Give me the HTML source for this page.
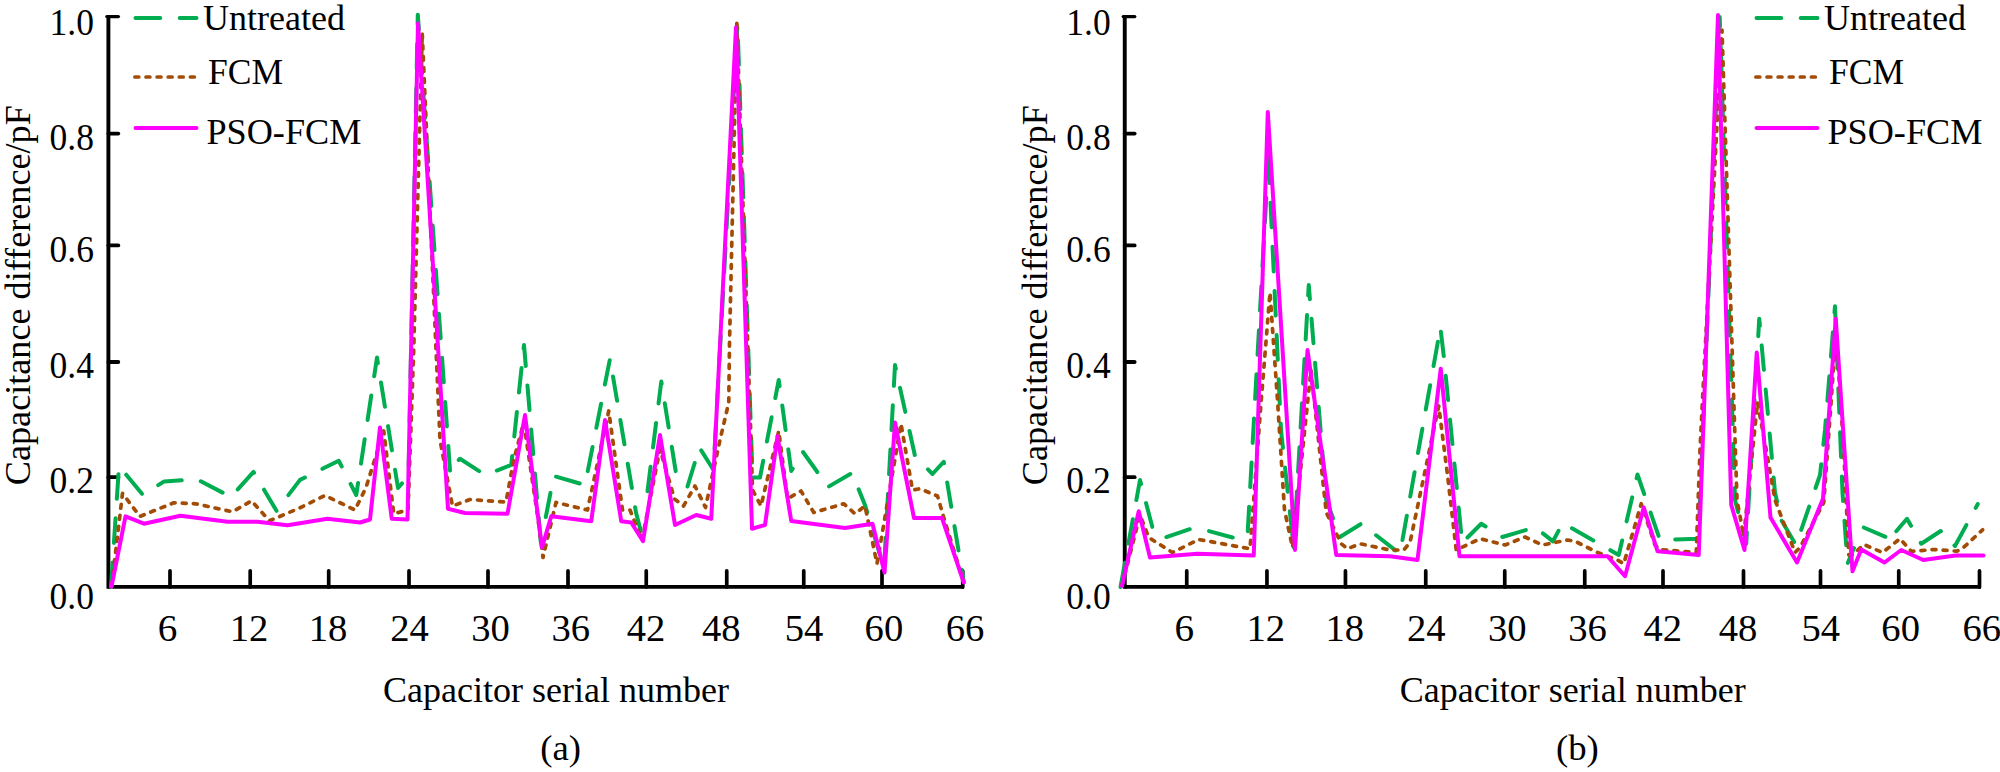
<!DOCTYPE html>
<html><head><meta charset="utf-8"><title>Capacitance difference</title>
<style>
html,body{margin:0;padding:0;background:#fff;}
svg{display:block}
text{font-family:"Liberation Serif","Times New Roman",serif;font-size:35.5px;fill:#000}
.t{font-size:37.3px}
.a{font-size:36.7px}
</style></head><body>
<svg width="2000" height="772" viewBox="0 0 2000 772">
<rect width="2000" height="772" fill="#fff"/>
<line x1="108.4" y1="15.2" x2="108.4" y2="588.75" stroke="#000" stroke-width="3.9"/>
<line x1="106.9" y1="16.6" x2="118.4" y2="16.6" stroke="#000" stroke-width="3.3" stroke-linecap="round"/>
<line x1="108.4" y1="586.9" x2="964" y2="586.9" stroke="#000" stroke-width="3.7"/>
<line x1="108.4" y1="133.6" x2="118.3" y2="133.6" stroke="#000" stroke-width="3.8" stroke-linecap="round"/>
<line x1="108.4" y1="245.4" x2="118.3" y2="245.4" stroke="#000" stroke-width="3.8" stroke-linecap="round"/>
<line x1="108.4" y1="362" x2="118.3" y2="362" stroke="#000" stroke-width="3.8" stroke-linecap="round"/>
<line x1="108.4" y1="477.2" x2="118.3" y2="477.2" stroke="#000" stroke-width="3.8" stroke-linecap="round"/>
<line x1="170" y1="570.9" x2="170" y2="586.9" stroke="#000" stroke-width="3.7" stroke-linecap="round"/>
<line x1="250.2" y1="570.9" x2="250.2" y2="586.9" stroke="#000" stroke-width="3.7" stroke-linecap="round"/>
<line x1="328.7" y1="570.9" x2="328.7" y2="586.9" stroke="#000" stroke-width="3.7" stroke-linecap="round"/>
<line x1="409" y1="570.9" x2="409" y2="586.9" stroke="#000" stroke-width="3.7" stroke-linecap="round"/>
<line x1="488" y1="570.9" x2="488" y2="586.9" stroke="#000" stroke-width="3.7" stroke-linecap="round"/>
<line x1="568" y1="570.9" x2="568" y2="586.9" stroke="#000" stroke-width="3.7" stroke-linecap="round"/>
<line x1="646.25" y1="570.9" x2="646.25" y2="586.9" stroke="#000" stroke-width="3.7" stroke-linecap="round"/>
<line x1="726.75" y1="570.9" x2="726.75" y2="586.9" stroke="#000" stroke-width="3.7" stroke-linecap="round"/>
<line x1="803.75" y1="570.9" x2="803.75" y2="586.9" stroke="#000" stroke-width="3.7" stroke-linecap="round"/>
<line x1="882" y1="570.9" x2="882" y2="586.9" stroke="#000" stroke-width="3.7" stroke-linecap="round"/>
<line x1="962.75" y1="570.9" x2="962.75" y2="586.9" stroke="#000" stroke-width="3.7" stroke-linecap="round"/>
<text class="t" x="94" y="34.5" text-anchor="end" textLength="44.4" lengthAdjust="spacingAndGlyphs">1.0</text>
<text class="t" x="94" y="149.5" text-anchor="end" textLength="44.4" lengthAdjust="spacingAndGlyphs">0.8</text>
<text class="t" x="94" y="261.5" text-anchor="end" textLength="44.4" lengthAdjust="spacingAndGlyphs">0.6</text>
<text class="t" x="94" y="377.75" text-anchor="end" textLength="44.4" lengthAdjust="spacingAndGlyphs">0.4</text>
<text class="t" x="94" y="492.9" text-anchor="end" textLength="44.4" lengthAdjust="spacingAndGlyphs">0.2</text>
<text class="t" x="94" y="608.5" text-anchor="end" textLength="44.4" lengthAdjust="spacingAndGlyphs">0.0</text>
<text class="t" x="167.5" y="640.7" text-anchor="middle" textLength="19.6" lengthAdjust="spacingAndGlyphs">6</text>
<text class="t" x="249.1" y="640.7" text-anchor="middle" textLength="38.6" lengthAdjust="spacingAndGlyphs">12</text>
<text class="t" x="328" y="640.7" text-anchor="middle" textLength="38.6" lengthAdjust="spacingAndGlyphs">18</text>
<text class="t" x="409.6" y="640.7" text-anchor="middle" textLength="38.6" lengthAdjust="spacingAndGlyphs">24</text>
<text class="t" x="490.5" y="640.7" text-anchor="middle" textLength="38.6" lengthAdjust="spacingAndGlyphs">30</text>
<text class="t" x="570.8" y="640.7" text-anchor="middle" textLength="38.6" lengthAdjust="spacingAndGlyphs">36</text>
<text class="t" x="646.1" y="640.7" text-anchor="middle" textLength="38.6" lengthAdjust="spacingAndGlyphs">42</text>
<text class="t" x="721.3" y="640.7" text-anchor="middle" textLength="38.6" lengthAdjust="spacingAndGlyphs">48</text>
<text class="t" x="804" y="640.7" text-anchor="middle" textLength="38.6" lengthAdjust="spacingAndGlyphs">54</text>
<text class="t" x="883.9" y="640.7" text-anchor="middle" textLength="38.6" lengthAdjust="spacingAndGlyphs">60</text>
<text class="t" x="965" y="640.7" text-anchor="middle" textLength="38.6" lengthAdjust="spacingAndGlyphs">66</text>
<text class="a" transform="translate(30,295.2) rotate(-90)" text-anchor="middle" textLength="380" lengthAdjust="spacingAndGlyphs">Capacitance difference/pF</text>
<text class="a" x="556" y="701.6" text-anchor="middle" textLength="346" lengthAdjust="spacingAndGlyphs">Capacitor serial number</text>
<text class="a" x="560.7" y="759.6" text-anchor="middle">(a)</text>
<polyline points="111,587 119,466 142.9,494.8 164.2,481.4 197,479.3 231,497 253.5,471.9 276.5,510.8 300,479.9 338.75,460.75 356.25,495 377,357.5 398,488 408.5,476 417.8,14.7 450.4,476" fill="none" stroke="#00ad50" stroke-width="4" stroke-linejoin="round" stroke-dasharray="24.6 19.6" stroke-linecap="round"/>
<polyline points="458.75,460 460,458.75 485,475 511.25,465 524,345 541,545" fill="none" stroke="#00ad50" stroke-width="4" stroke-linejoin="round" stroke-dasharray="24.6 19.6" stroke-linecap="round"/>
<polyline points="545.8,517 553.75,476 585,485 610,358.75 636,512.5 642.5,537.5" fill="none" stroke="#00ad50" stroke-width="4" stroke-linejoin="round" stroke-dasharray="24.6 19.6" stroke-linecap="round"/>
<polyline points="647.5,491.25 661.3,381.5 676.4,475.5" fill="none" stroke="#00ad50" stroke-width="4" stroke-linejoin="round" stroke-dasharray="24.6 19.6" stroke-linecap="round"/>
<polyline points="687.5,486.5 699.4,447.5 713.5,470 737.5,24 752.3,472" fill="none" stroke="#00ad50" stroke-width="4" stroke-linejoin="round" stroke-dasharray="24.6 19.6" stroke-linecap="round"/>
<polyline points="752.5,477.5 760,477.5 778.75,380 791.25,471 803,452 828,487 852,473 865,505 884,568 895,365 915,456 932.5,474 943.75,461.75 963.75,582" fill="none" stroke="#00ad50" stroke-width="4" stroke-linejoin="round" stroke-dasharray="24.6 19.6" stroke-linecap="round"/>
<polyline points="111.5,587 122.5,493.4 139.9,516.4 173.8,502.8 195.7,503.8 232.6,511.8 251.5,500.8 269.5,520.8 300,507.8 325,495.5 355,510 366,487.5 383.75,431 393.75,513.75 408,510 413.7,350 422.2,33.2 440,440 452.5,506 470,499.5 506,502 513.75,460 523.75,422.5 537.5,515 543,557.5 556,502.5 587.5,510 608.75,411 622.5,510 630,510 642,540 660,449 674.5,499 683.5,506 695,486 705.5,507.5 720,440 728.75,402.5 729.5,343.75 736.8,23.3" fill="none" stroke="#a34c05" stroke-width="3.7" stroke-linejoin="round" stroke-dasharray="3.9 7.2" stroke-dashoffset="-1.6" stroke-linecap="round"/>
<polyline points="736.8,23.3 751,440 752.5,490 761,506 778.75,431 787.5,498.75 801,491 813.75,512.5 843.75,503.75 855,513.75 865,506 877,563.75 901,423.75 912.5,490 920,488.75 937.5,496 943.75,517.5 963,580" fill="none" stroke="#a34c05" stroke-width="3.7" stroke-linejoin="round" stroke-dasharray="3.9 7.2" stroke-dashoffset="-1.6" stroke-linecap="round"/>
<polyline points="111.5,586.5 125.5,516.4 143.9,523.7 180.4,515.8 227.6,521.8 257.5,521.8 287.5,525.2 327.5,518.75 360,522.5 370,519.5 380,427.5 391.75,518.75 407.5,519.5 418,23.2 448,508.75 465,513 507.5,513.75 525,415 542,547.5 551.25,516.25 591.25,521.25 605,420 621.25,521.25 631.25,522.5 643,541.25 660,435 675,525 696.25,515 711.25,518.75 736,27.3 752,528.75 765,525 777.5,436.25 791.25,521 845,528 872.5,523.75 884.5,572.5 895,422.5 914,518 942,518 963.75,582.5" fill="none" stroke="#ff00ff" stroke-width="4" stroke-linejoin="round" stroke-linecap="round"/>
<line x1="135.5" y1="18" x2="196.5" y2="18" stroke="#00ad50" stroke-width="4" stroke-dasharray="24.75 19.5" stroke-linecap="round"/>
<line x1="133.3" y1="77" x2="195.9" y2="77" stroke="#a34c05" stroke-width="3.7" stroke-dasharray="3.9 7.2" stroke-dashoffset="-1.6" stroke-linecap="round"/>
<line x1="135.5" y1="128" x2="196.5" y2="128" stroke="#ff00ff" stroke-width="4" stroke-linecap="round"/>
<text x="203" y="29.5" textLength="142" lengthAdjust="spacingAndGlyphs">Untreated</text>
<text x="208.1" y="83.75">FCM</text>
<text x="206.5" y="143.75" textLength="154.8" lengthAdjust="spacingAndGlyphs">PSO-FCM</text>
<line x1="1124.75" y1="15.2" x2="1124.75" y2="588.75" stroke="#000" stroke-width="3.9"/>
<line x1="1123.25" y1="16.6" x2="1134.75" y2="16.6" stroke="#000" stroke-width="3.3" stroke-linecap="round"/>
<line x1="1124.75" y1="586.9" x2="1981" y2="586.9" stroke="#000" stroke-width="3.7"/>
<line x1="1124.75" y1="133.6" x2="1134.65" y2="133.6" stroke="#000" stroke-width="3.8" stroke-linecap="round"/>
<line x1="1124.75" y1="245.4" x2="1134.65" y2="245.4" stroke="#000" stroke-width="3.8" stroke-linecap="round"/>
<line x1="1124.75" y1="362" x2="1134.65" y2="362" stroke="#000" stroke-width="3.8" stroke-linecap="round"/>
<line x1="1124.75" y1="477.2" x2="1134.65" y2="477.2" stroke="#000" stroke-width="3.8" stroke-linecap="round"/>
<line x1="1186.75" y1="570.9" x2="1186.75" y2="586.9" stroke="#000" stroke-width="3.7" stroke-linecap="round"/>
<line x1="1266.95" y1="570.9" x2="1266.95" y2="586.9" stroke="#000" stroke-width="3.7" stroke-linecap="round"/>
<line x1="1345.45" y1="570.9" x2="1345.45" y2="586.9" stroke="#000" stroke-width="3.7" stroke-linecap="round"/>
<line x1="1425.75" y1="570.9" x2="1425.75" y2="586.9" stroke="#000" stroke-width="3.7" stroke-linecap="round"/>
<line x1="1504.75" y1="570.9" x2="1504.75" y2="586.9" stroke="#000" stroke-width="3.7" stroke-linecap="round"/>
<line x1="1584.75" y1="570.9" x2="1584.75" y2="586.9" stroke="#000" stroke-width="3.7" stroke-linecap="round"/>
<line x1="1663" y1="570.9" x2="1663" y2="586.9" stroke="#000" stroke-width="3.7" stroke-linecap="round"/>
<line x1="1743.5" y1="570.9" x2="1743.5" y2="586.9" stroke="#000" stroke-width="3.7" stroke-linecap="round"/>
<line x1="1820.5" y1="570.9" x2="1820.5" y2="586.9" stroke="#000" stroke-width="3.7" stroke-linecap="round"/>
<line x1="1898.75" y1="570.9" x2="1898.75" y2="586.9" stroke="#000" stroke-width="3.7" stroke-linecap="round"/>
<line x1="1979.5" y1="570.9" x2="1979.5" y2="586.9" stroke="#000" stroke-width="3.7" stroke-linecap="round"/>
<text class="t" x="1110.75" y="34.5" text-anchor="end" textLength="44.4" lengthAdjust="spacingAndGlyphs">1.0</text>
<text class="t" x="1110.75" y="149.5" text-anchor="end" textLength="44.4" lengthAdjust="spacingAndGlyphs">0.8</text>
<text class="t" x="1110.75" y="261.5" text-anchor="end" textLength="44.4" lengthAdjust="spacingAndGlyphs">0.6</text>
<text class="t" x="1110.75" y="377.75" text-anchor="end" textLength="44.4" lengthAdjust="spacingAndGlyphs">0.4</text>
<text class="t" x="1110.75" y="492.9" text-anchor="end" textLength="44.4" lengthAdjust="spacingAndGlyphs">0.2</text>
<text class="t" x="1110.75" y="608.5" text-anchor="end" textLength="44.4" lengthAdjust="spacingAndGlyphs">0.0</text>
<text class="t" x="1184.25" y="640.7" text-anchor="middle" textLength="19.6" lengthAdjust="spacingAndGlyphs">6</text>
<text class="t" x="1265.85" y="640.7" text-anchor="middle" textLength="38.6" lengthAdjust="spacingAndGlyphs">12</text>
<text class="t" x="1344.75" y="640.7" text-anchor="middle" textLength="38.6" lengthAdjust="spacingAndGlyphs">18</text>
<text class="t" x="1426.35" y="640.7" text-anchor="middle" textLength="38.6" lengthAdjust="spacingAndGlyphs">24</text>
<text class="t" x="1507.25" y="640.7" text-anchor="middle" textLength="38.6" lengthAdjust="spacingAndGlyphs">30</text>
<text class="t" x="1587.55" y="640.7" text-anchor="middle" textLength="38.6" lengthAdjust="spacingAndGlyphs">36</text>
<text class="t" x="1662.85" y="640.7" text-anchor="middle" textLength="38.6" lengthAdjust="spacingAndGlyphs">42</text>
<text class="t" x="1738.05" y="640.7" text-anchor="middle" textLength="38.6" lengthAdjust="spacingAndGlyphs">48</text>
<text class="t" x="1820.75" y="640.7" text-anchor="middle" textLength="38.6" lengthAdjust="spacingAndGlyphs">54</text>
<text class="t" x="1900.65" y="640.7" text-anchor="middle" textLength="38.6" lengthAdjust="spacingAndGlyphs">60</text>
<text class="t" x="1981.75" y="640.7" text-anchor="middle" textLength="38.6" lengthAdjust="spacingAndGlyphs">66</text>
<text class="a" transform="translate(1046.75,295.2) rotate(-90)" text-anchor="middle" textLength="380" lengthAdjust="spacingAndGlyphs">Capacitance difference/pF</text>
<text class="a" x="1572.75" y="701.6" text-anchor="middle" textLength="346" lengthAdjust="spacingAndGlyphs">Capacitor serial number</text>
<text class="a" x="1577.45" y="759.6" text-anchor="middle">(b)</text>
<polyline points="1120.5,587 1140,480 1153.75,532.5 1165,537.5 1191,528.75 1205,530 1232.5,537.5 1247.5,536 1268.5,157.7" fill="none" stroke="#00ad50" stroke-width="4" stroke-linejoin="round" stroke-dasharray="24.6 19.6" stroke-linecap="round"/>
<polyline points="1268.5,158.5 1281,430 1293.75,547.5" fill="none" stroke="#00ad50" stroke-width="4" stroke-linejoin="round" stroke-dasharray="24.6 19.6" stroke-linecap="round"/>
<polyline points="1293.75,547.5 1308.75,285 1326.25,500 1340,537 1361.25,523.75 1400,553.75 1438.2,340" fill="none" stroke="#00ad50" stroke-width="4" stroke-linejoin="round" stroke-dasharray="24.6 19.6" stroke-linecap="round" stroke-dashoffset="12.67"/>
<polyline points="1440.9,331.7 1444,358.2 1461.25,533.75" fill="none" stroke="#00ad50" stroke-width="4" stroke-linejoin="round" stroke-dasharray="24.6 19.6" stroke-linecap="round"/>
<polyline points="1467.5,537.5 1481.25,523.75 1502.5,537 1535,527.3 1553,541.3 1562.7,523 1618.75,555 1637.5,474.5 1660,540 1698.5,538.75 1719.7,17 1735,500 1746.25,543.75 1759.25,318.75 1775,492.5 1781.25,520 1796,545 1820,475 1825,430 1835,306.25 1842.5,492.5 1847.5,563.75 1854,548" fill="none" stroke="#00ad50" stroke-width="4" stroke-linejoin="round" stroke-dasharray="24.6 19.6" stroke-linecap="round"/>
<polyline points="1863.75,527.5 1885.5,536.8" fill="none" stroke="#00ad50" stroke-width="4" stroke-linejoin="round" stroke-dasharray="24.6 19.6" stroke-linecap="round"/>
<polyline points="1896.25,531.25 1907,518.75 1921.25,543.75 1940.7,531 1955,546 1977.8,504" fill="none" stroke="#00ad50" stroke-width="4" stroke-linejoin="round" stroke-dasharray="24.6 19.6" stroke-linecap="round"/>
<polyline points="1121.5,587 1140,515 1148.75,537.5 1172.5,552.5 1198.75,539.5 1250,548.75 1261.25,400 1270,292.5 1277.5,400 1284.5,510 1292.5,547.5 1306.25,415 1311,370 1326.25,512.5 1341.25,543.75 1347.5,548.75 1360,543.75 1390,550 1403.75,550 1410,542.5 1438.75,406 1447.5,475 1456.25,550 1480,538.75 1505,545 1525,537 1542.5,545 1567.5,540 1575,541.25 1597.5,552.5 1617.5,560 1623.75,563.75 1641.25,503.75 1655,545 1660,549.5 1696.25,552.5 1700,450 1702.5,400 1722,30 1733.75,400 1737,500 1743.75,536.25 1757.5,402.5 1766.25,450 1775,500 1795,552.5 1800,547.5 1823.75,502.5 1831.25,400 1836,330 1843.75,450 1848.75,555 1852.5,555 1863.75,544.5 1882.5,552.5 1900,538.75 1911.25,551.25 1935,549.5 1957,551.2 1964,547 1982.6,529.8" fill="none" stroke="#a34c05" stroke-width="3.7" stroke-linejoin="round" stroke-dasharray="3.9 7.2" stroke-dashoffset="-1.6" stroke-linecap="round"/>
<polyline points="1122,586 1138.75,511.25 1150,557.5 1197.5,553.75 1253.75,555.5 1267.8,112 1295,550 1307.5,350 1336.25,555 1390,556.25 1417.5,560 1440.75,368.75 1459.5,556.25 1607.5,556.25 1625,576.25 1643.75,507.5 1657.5,551.25 1698.75,555 1718,15 1731.25,505 1744.5,550 1756.75,352.5 1770.5,517.5 1797,562.5 1823,498.75 1835.75,318.75 1852.5,571.25 1861.25,549.5 1884.5,562.5 1901.25,550 1923.25,560 1955.5,555.5 1983.5,555.5" fill="none" stroke="#ff00ff" stroke-width="4" stroke-linejoin="round" stroke-linecap="round"/>
<line x1="1756.5" y1="18" x2="1817.5" y2="18" stroke="#00ad50" stroke-width="4" stroke-dasharray="24.75 19.5" stroke-linecap="round"/>
<line x1="1754.3" y1="77" x2="1816.9" y2="77" stroke="#a34c05" stroke-width="3.7" stroke-dasharray="3.9 7.2" stroke-dashoffset="-1.6" stroke-linecap="round"/>
<line x1="1756.5" y1="128" x2="1817.5" y2="128" stroke="#ff00ff" stroke-width="4" stroke-linecap="round"/>
<text x="1824" y="29.5" textLength="142" lengthAdjust="spacingAndGlyphs">Untreated</text>
<text x="1829.1" y="83.75">FCM</text>
<text x="1827.5" y="143.75" textLength="154.8" lengthAdjust="spacingAndGlyphs">PSO-FCM</text>
</svg>
</body></html>
